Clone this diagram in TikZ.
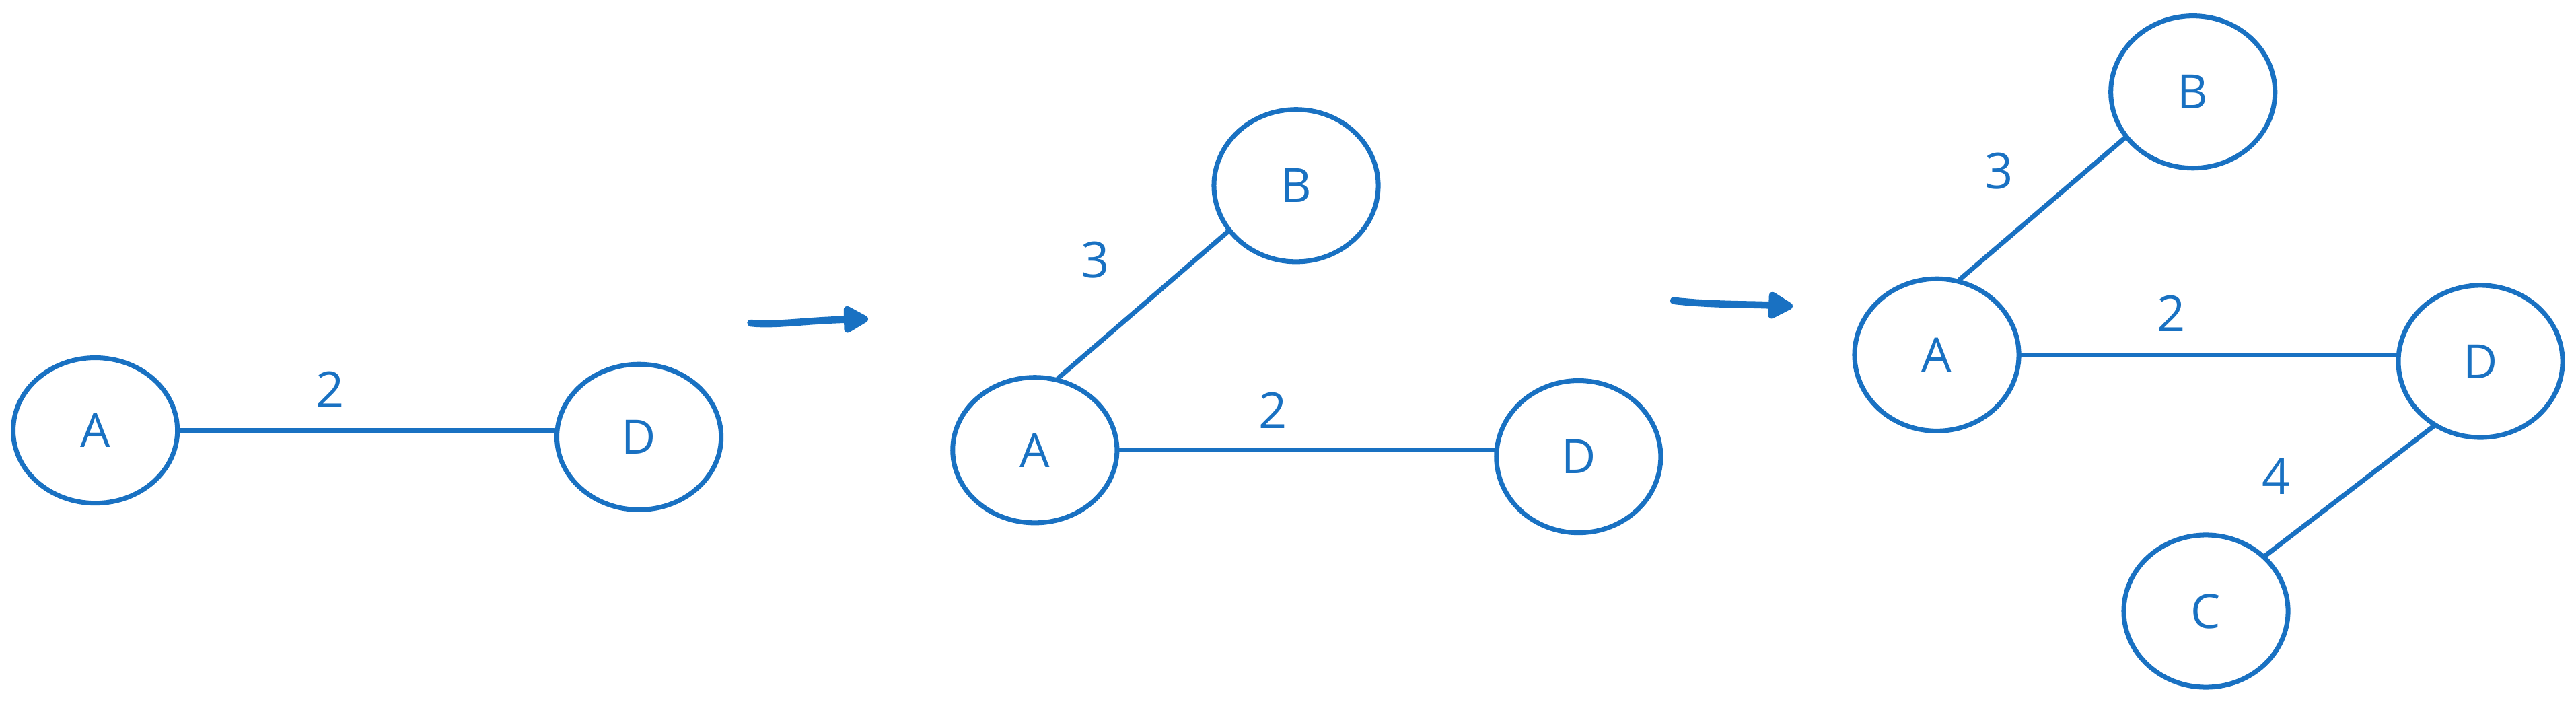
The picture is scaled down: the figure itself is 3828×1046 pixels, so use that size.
\documentclass[tikz,border=0pt]{standalone}
\usepackage{fontspec}
\setmainfont{Open Sans}
\usetikzlibrary{shapes.geometric,arrows.meta}
\definecolor{ink}{HTML}{1971C2}
\begin{document}
\begin{tikzpicture}[x=0.01cm,y=-0.01cm,
  vert/.style={ellipse,draw=ink,line width=2pt,inner sep=0pt,
    minimum width=2.44cm,minimum height=2.26cm,text=ink,
    font=\fontsize{20pt}{24pt}\selectfont},
  flat/.style={minimum height=2.16cm},
  edge/.style={draw=ink,line width=2pt,line cap=round},
  wlabel/.style={text=ink,inner sep=0pt,font=\fontsize{21pt}{24pt}\selectfont},
  step arrow/.style={draw=ink,line width=3pt,line cap=round,
    -{Triangle[round,length=0.42cm,width=0.44cm]}}]
\useasboundingbox (0,0) rectangle (3828,1046);
% panel 1
\node[vert,flat] (A1) at (141.6,639.6) {A};
\node[vert,flat] (D1) at (949.6,649.3) {D};
\draw[edge] (A1.east) -- (A1.east -| D1.west);
\node[wlabel] (w1) at (490.6,578.5) {2};
% arrow 1
\coordinate (s1) at (1115.6,480);
\coordinate (e1) at (1290,474);
\draw[step arrow] (s1) .. controls (1150,484) and (1200,476) .. (e1);
% panel 2
\node[vert] (B2) at (1926,275.8) {B};
\node[vert,flat] (A2) at (1537.8,668.8) {A};
\node[vert] (D2) at (2345.8,678.6) {D};
\draw[edge] (A2.72) -- (B2.214);
\draw[edge] (A2.east) -- (A2.east -| D2.west);
\node[wlabel] (w2) at (1628,385.7) {3};
\node[wlabel] (w3) at (1891.8,610) {2};
% arrow 2
\coordinate (s2) at (2487,446.7);
\coordinate (e2) at (2664,455);
\draw[step arrow] (s2) .. controls (2540,453) and (2600,452) .. (e2);
% panel 3
\node[vert] (B3) at (3258.7,136.7) {B};
\node[vert] (A3) at (2878,527.3) {A};
\node[vert] (D3) at (3686,537) {D};
\node[vert] (C3) at (3278,908) {C};
\draw[edge] (A3.73) -- (B3.214);
\draw[edge] (A3.east) -- (A3.east -| D3.west);
\draw[edge] (D3.234) -- (C3.43);
\node[wlabel] (w4) at (2970.7,253.9) {3};
\node[wlabel] (w5) at (3227,466) {2};
\node[wlabel] (w6) at (3383,708) {4};
\end{tikzpicture}
\end{document}
